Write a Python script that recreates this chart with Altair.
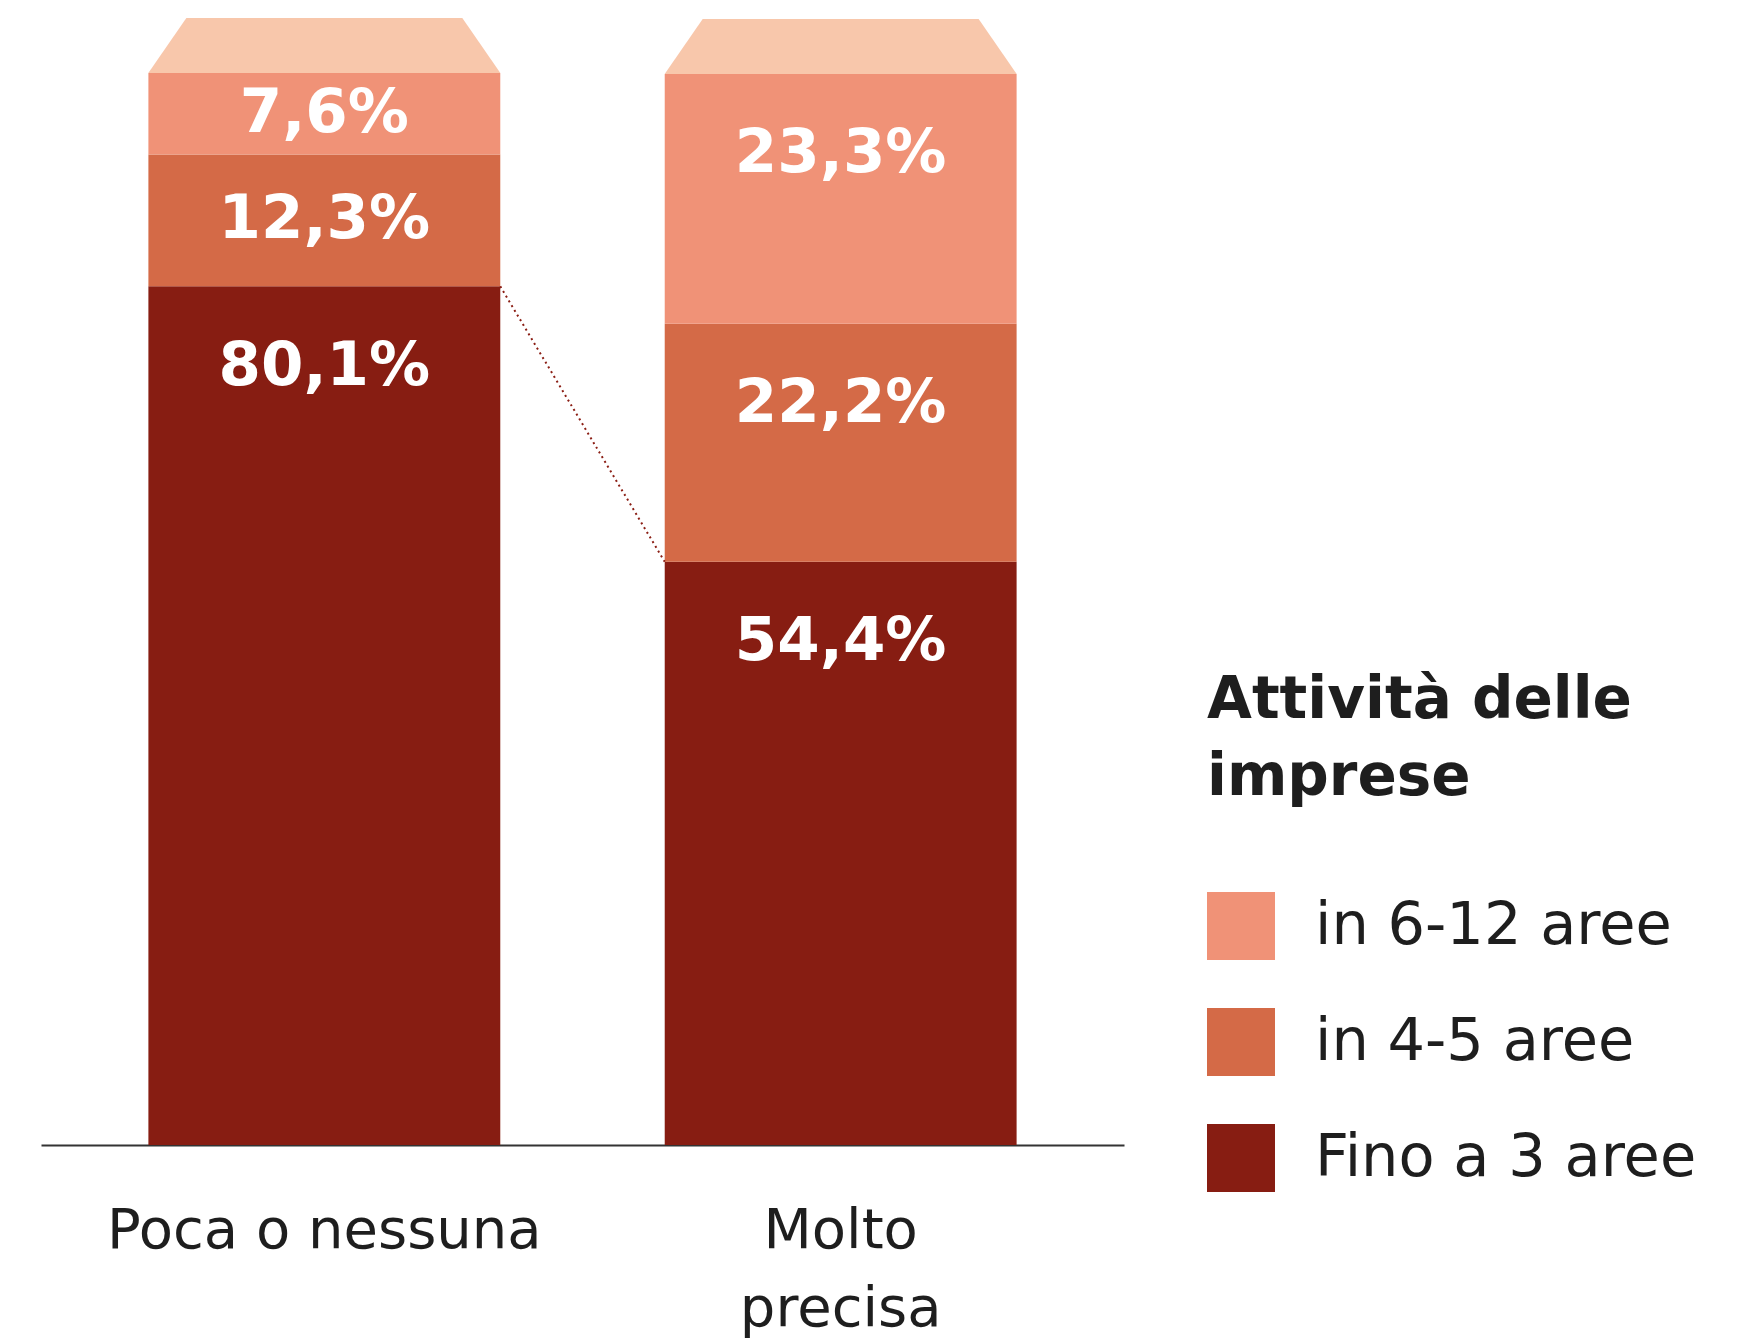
import altair as alt
import pandas as pd

# ---- data ----
categories = ["Poca o nessuna", "Molto precisa"]
series = ["Fino a 3 aree", "in 4-5 aree", "in 6-12 aree"]  # bottom -> top
poca_values = [80.1, 12.3, 7.6]
molto_values = [54.4, 22.2, 23.3]
legend_order = ["in 6-12 aree", "in 4-5 aree", "Fino a 3 aree"]
legend_colors = ["#F09277", "#D46A47", "#871D12"]
cap_color = "#F8C7AB"
legend_title = ["Attività delle", "imprese"]

# ---- build tables ----
rows = []
for cat, vals in zip(categories, [poca_values, molto_values]):
    start = 0.0
    for s, v in zip(series, vals):
        end = start + v
        rows.append(dict(cat=cat, series=s, value=v, start=start, end=end,
                         label=f"{v:.1f}".replace(".", ",") + "%",
                         label_y=end - min(v / 2.0, 7.5)))
        start = end
df = pd.DataFrame(rows)
tops = df.groupby("cat", sort=False)["end"].max().reset_index()

base_rows = df[df["series"] == series[0]].set_index("cat")["end"]
conn = pd.DataFrame([{"cat": categories[0], "cat_to": categories[1],
                      "y_from": base_rows[categories[0]],
                      "y_to": base_rows[categories[1]]}])

x_scale = alt.Scale(domain=categories, paddingInner=0.3185, paddingOuter=0.208)
y_scale = alt.Scale(domain=[0, 105.13], nice=False, zero=True)
x_axis = alt.Axis(
    title=None, domain=True, domainColor="#333333", domainWidth=2,
    ticks=False, tickSize=0, labelAngle=0, labelFont="DejaVu Sans",
    labelFontSize=56, labelColor="#1e1e1e", labelPadding=58,
    labelLineHeight=78, labelLimit=800, labelOverlap=False, grid=False,
    labelExpr="datum.label == 'Molto precisa' ? ['Molto', 'precisa'] : datum.label",
)

bars = alt.Chart(df).mark_bar().encode(
    x=alt.X("cat:N", scale=x_scale, axis=x_axis, title=None),
    y=alt.Y("start:Q", scale=y_scale, axis=None),
    y2="end:Q",
    color=alt.Color(
        "series:N",
        scale=alt.Scale(domain=legend_order, range=legend_colors),
        legend=alt.Legend(
            orient="none", legendX=1166, legendY=654, padding=0,
            title=legend_title, titleFont="DejaVu Sans", titleFontWeight="bold",
            titleFontSize=58, titleLineHeight=77, titleColor="#1e1e1e",
            titlePadding=85, titleLimit=900,
            labelFont="DejaVu Sans", labelFontSize=59, labelColor="#1e1e1e",
            labelLimit=900, labelOffset=40,
            symbolType="square", symbolSize=4624, symbolStrokeWidth=0,
            symbolOpacity=1, rowPadding=48,
        ),
    ),
)

cap_shape = "M -1 0 L -0.784 -0.3125 L 0.784 -0.3125 L 1 0 Z"
caps = alt.Chart(tops).mark_point(
    shape=cap_shape, size=123904, filled=True, opacity=1, strokeWidth=0,
    color=cap_color,
).encode(
    x=alt.X("cat:N", scale=x_scale, axis=x_axis, title=None),
    y=alt.Y("end:Q", scale=y_scale, axis=None),
)

labels = alt.Chart(df).mark_text(
    font="DejaVu Sans", fontWeight="bold", fontSize=61, color="white",
    align="center", baseline="middle",
).encode(
    x=alt.X("cat:N", scale=x_scale, axis=x_axis, title=None),
    y=alt.Y("label_y:Q", scale=y_scale, axis=None),
    text="label:N",
)

connector = alt.Chart(conn).mark_rule(
    color="#8B1E14", strokeWidth=2, strokeDash=[2, 3.5],
).encode(
    x=alt.X("cat:N", scale=x_scale, axis=x_axis, title=None, bandPosition=1),
    x2=alt.X2("cat_to", bandPosition=0),
    y=alt.Y("y_from:Q", scale=y_scale, axis=None),
    y2="y_to:Q",
)

chart = alt.layer(bars, caps, connector, labels).properties(
    width=1083, height=1127,
    padding={"left": 33, "top": 9, "right": 20, "bottom": 5},
    background="white",
).configure_view(stroke=None)

chart.save("out.html", embed_options={"renderer": "svg", "actions": False})
